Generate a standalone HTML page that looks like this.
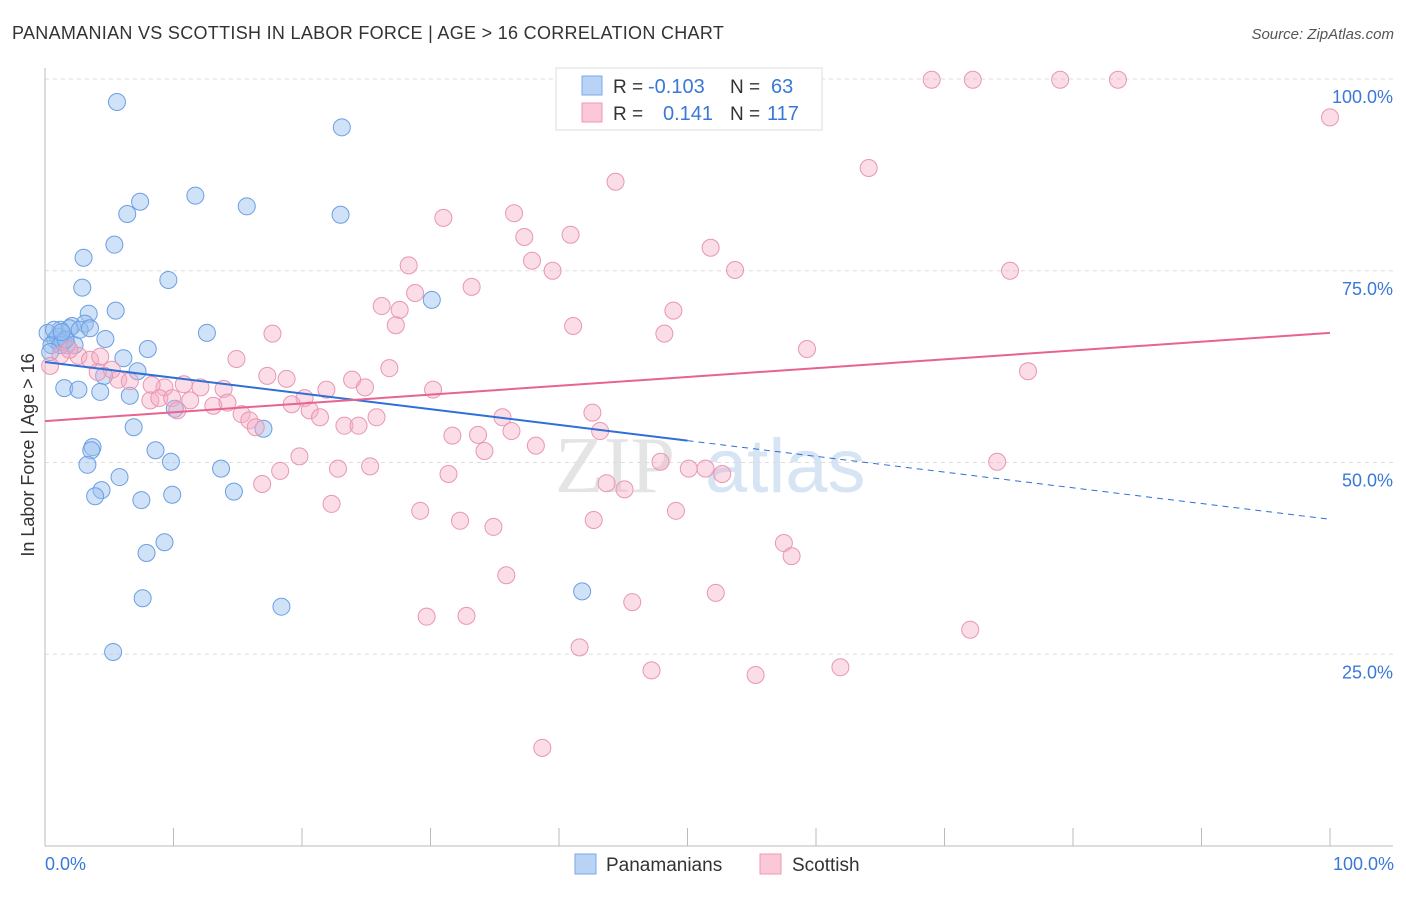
<!DOCTYPE html>
<html><head><meta charset="utf-8"><style>
body{margin:0;background:#fff;font-family:"Liberation Sans",sans-serif;}
</style></head><body>
<svg id="chart" width="1406" height="892" xmlns="http://www.w3.org/2000/svg" font-family="Liberation Sans, sans-serif">
<text x="12" y="39" font-size="18" fill="#333" letter-spacing="0.3">PANAMANIAN VS SCOTTISH IN LABOR FORCE | AGE &gt; 16 CORRELATION CHART</text>
<text x="1394" y="39" font-size="15" fill="#555" text-anchor="end" font-style="italic">Source: ZipAtlas.com</text>
<text x="555" y="492" font-size="80" fill="#e4e4e4" font-family="Liberation Serif, serif">ZIP</text>
<text x="705" y="492" font-size="76" fill="#d6e4f4">atlas</text>
<g id="grid"></g>
<g id="marks"></g>
<text transform="translate(34,455) rotate(-90)" font-size="18" fill="#333" text-anchor="middle">In Labor Force | Age &gt; 16</text>
<text x="45" y="870" font-size="18" fill="#3a78d8">0.0%</text>
<text x="1394" y="870" font-size="18" fill="#3a78d8" text-anchor="end">100.0%</text>
<g>
<rect x="556" y="68" width="266" height="62" fill="#fff" stroke="#ddd"/>
<rect x="582" y="76" width="20" height="19" fill="#b8d3f5" stroke="#7aa7e4"/>
<rect x="582" y="103" width="20" height="19" fill="#fbc8d8" stroke="#ec9ab5"/>
<text x="613" y="93" font-size="19" fill="#333">R =</text>
<text x="648" y="93" font-size="20" fill="#3a78d8">-0.103</text>
<text x="730" y="93" font-size="19" fill="#333">N =</text>
<text x="771" y="93" font-size="20" fill="#3a78d8">63</text>
<text x="613" y="120" font-size="19" fill="#333">R =</text>
<text x="663" y="120" font-size="20" fill="#3a78d8">0.141</text>
<text x="730" y="120" font-size="19" fill="#333">N =</text>
<text x="767" y="120" font-size="20" fill="#3a78d8">117</text>
</g>
<g>
<rect x="575" y="854" width="21" height="20" fill="#b8d3f5" stroke="#7aa7e4"/>
<text x="606" y="871" font-size="19" fill="#333">Panamanians</text>
<rect x="760" y="854" width="21" height="20" fill="#fbc8d8" stroke="#ec9ab5"/>
<text x="792" y="871" font-size="19" fill="#333">Scottish</text>
</g>
</svg>
<script>
const yTicks=[25,50,75,100];
const yTickLabels=["25.0%","50.0%","75.0%","100.0%"];
const xTicks=[0,10,20,30,40,50,60,70,80,90,100];
const blueX=[5.6,23.1,7.4,11.7,6.4,15.7,23.0,5.4,3.0,9.6,2.9,30.1,3.4,5.5,2.1,3.1,12.6,4.7,1.2,0.2,0.8,1.7,8.0,6.1,7.2,4.6,1.5,2.6,4.3,6.6,10.1,17.0,6.9,3.7,3.6,8.6,9.8,3.3,5.8,13.7,4.4,3.9,7.5,9.9,14.7,9.3,7.9,7.6,18.4,41.8,5.3,1.0,0.5,1.4,1.9,1.2,2.3,0.4,0.7,1.6,2.7,3.5,1.3];
const blueY=[97.0,93.7,84.0,84.8,82.4,83.4,82.3,78.4,76.7,73.8,72.8,71.2,69.4,69.8,67.8,68.1,66.9,66.1,67.3,66.9,66.0,65.3,64.8,63.6,61.9,61.3,59.7,59.5,59.2,58.7,57.0,54.4,54.6,52.0,51.6,51.6,50.1,49.7,48.1,49.2,46.4,45.6,45.1,45.8,46.2,39.6,38.2,32.3,31.2,33.2,25.3,66.4,65.3,65.7,67.5,65.3,65.3,64.4,67.3,66.0,67.3,67.5,67.0];
const pinkX=[69.0,72.2,79.0,83.5,58.9,45.5,100,64.1,44.4,31.0,36.5,37.3,40.9,51.8,28.3,37.9,39.5,53.7,75.1,33.2,26.2,27.6,28.8,27.3,48.9,41.1,17.7,48.2,59.3,14.9,26.8,76.5,17.3,18.8,23.9,30.2,24.9,21.9,10.8,9.3,12.1,13.9,8.3,5.7,6.6,4.1,5.2,2.6,3.5,4.3,1.2,0.4,1.9,8.2,8.9,9.9,11.3,13.1,14.2,10.3,20.2,19.2,20.6,21.4,15.3,15.9,16.4,23.3,24.4,25.8,35.6,36.3,42.6,43.2,31.7,33.7,34.2,38.2,19.8,18.3,16.9,22.8,25.3,31.4,47.9,50.1,51.4,52.7,74.1,43.7,45.1,22.3,29.2,32.3,34.9,42.7,49.1,57.5,58.1,35.9,29.7,32.8,45.7,52.2,41.6,47.2,55.3,61.9,72.0,38.7];
const pinkY=[99.9,99.9,99.9,99.9,99.9,99.9,95.0,88.4,86.6,81.9,82.5,79.4,79.7,78.0,75.7,76.3,75.0,75.1,75.0,72.9,70.4,69.9,72.1,67.9,69.8,67.8,66.8,66.8,64.8,63.5,62.3,61.9,61.3,60.9,60.8,59.5,59.8,59.5,60.2,59.8,59.8,59.6,60.1,60.8,60.6,61.8,62.1,63.9,63.4,63.8,64.0,62.6,64.7,58.1,58.4,58.4,58.1,57.4,57.8,56.8,58.4,57.6,56.8,55.9,56.3,55.5,54.6,54.8,54.8,55.9,55.9,54.1,56.5,54.1,53.5,53.6,51.5,52.2,50.8,48.9,47.2,49.2,49.5,48.5,50.1,49.2,49.2,48.5,50.1,47.3,46.5,44.6,43.7,42.4,41.6,42.5,43.7,39.5,37.8,35.3,29.9,30.0,31.8,33.0,25.9,22.9,22.3,23.3,28.2,12.8];
const blueTrend=[63.1,42.6];
const pinkTrend=[55.4,66.9];
const blueSolidEnd=50;
const NS="http://www.w3.org/2000/svg";
const X0=45,X1=1330,Y0=846,Y100=79;
function sx(v){return X0+(X1-X0)*v/100;}
function sy(v){return Y0-(Y0-Y100)*v/100;}
function mk(t,a,p){const e=document.createElementNS(NS,t);for(const k in a)e.setAttribute(k,a[k]);p.appendChild(e);return e;}
const grid=document.getElementById('grid'),marks=document.getElementById('marks');
yTicks.forEach((v,i)=>{
  const g=mk('line',{x1:X0,x2:1393,y1:sy(v),y2:sy(v),stroke:'#ddd','stroke-dasharray':'4,4'},grid);
  
  
  const t=mk('text',{x:1393,y:sy(v)+24,'font-size':18,fill:'#3a78d8','text-anchor':'end'},grid);
  t.textContent=yTickLabels[i];
  
  
});
const ya=mk('line',{x1:X0,x2:X0,y1:68,y2:Y0,stroke:'#bbb'},grid);


const xa=mk('line',{x1:X0,x2:1393,y1:Y0,y2:Y0,stroke:'#bbb'},grid);


xTicks.forEach(v=>{
  const t=mk('line',{x1:sx(v),x2:sx(v),y1:828,y2:Y0,stroke:'#bbb'},grid);
  
  
});
blueX.forEach((x,i)=>{
  const c=mk('circle',{cx:sx(x),cy:sy(blueY[i]),r:8.5,fill:'rgba(150,190,240,0.45)',stroke:'#6b9fe2','stroke-width':1},marks);
  
  
});
pinkX.forEach((x,i)=>{
  const c=mk('circle',{cx:sx(x),cy:sy(pinkY[i]),r:8.5,fill:'rgba(246,170,195,0.4)',stroke:'#e996b2','stroke-width':1},marks);
  
  
});
function ty(tr,x){return tr[0]+(tr[1]-tr[0])*x/100;}
const bl=mk('line',{x1:sx(0),y1:sy(ty(blueTrend,0)),x2:sx(blueSolidEnd),y2:sy(ty(blueTrend,blueSolidEnd)),stroke:'#2f6fd6','stroke-width':2},marks);


const bd=mk('line',{x1:sx(blueSolidEnd),y1:sy(ty(blueTrend,blueSolidEnd)),x2:sx(100),y2:sy(ty(blueTrend,100)),stroke:'#2f6fd6','stroke-width':1,'stroke-dasharray':'6,5'},marks);


const pl=mk('line',{x1:sx(0),y1:sy(ty(pinkTrend,0)),x2:sx(100),y2:sy(ty(pinkTrend,100)),stroke:'#e8648c','stroke-width':2},marks);


</script>
</body></html>
